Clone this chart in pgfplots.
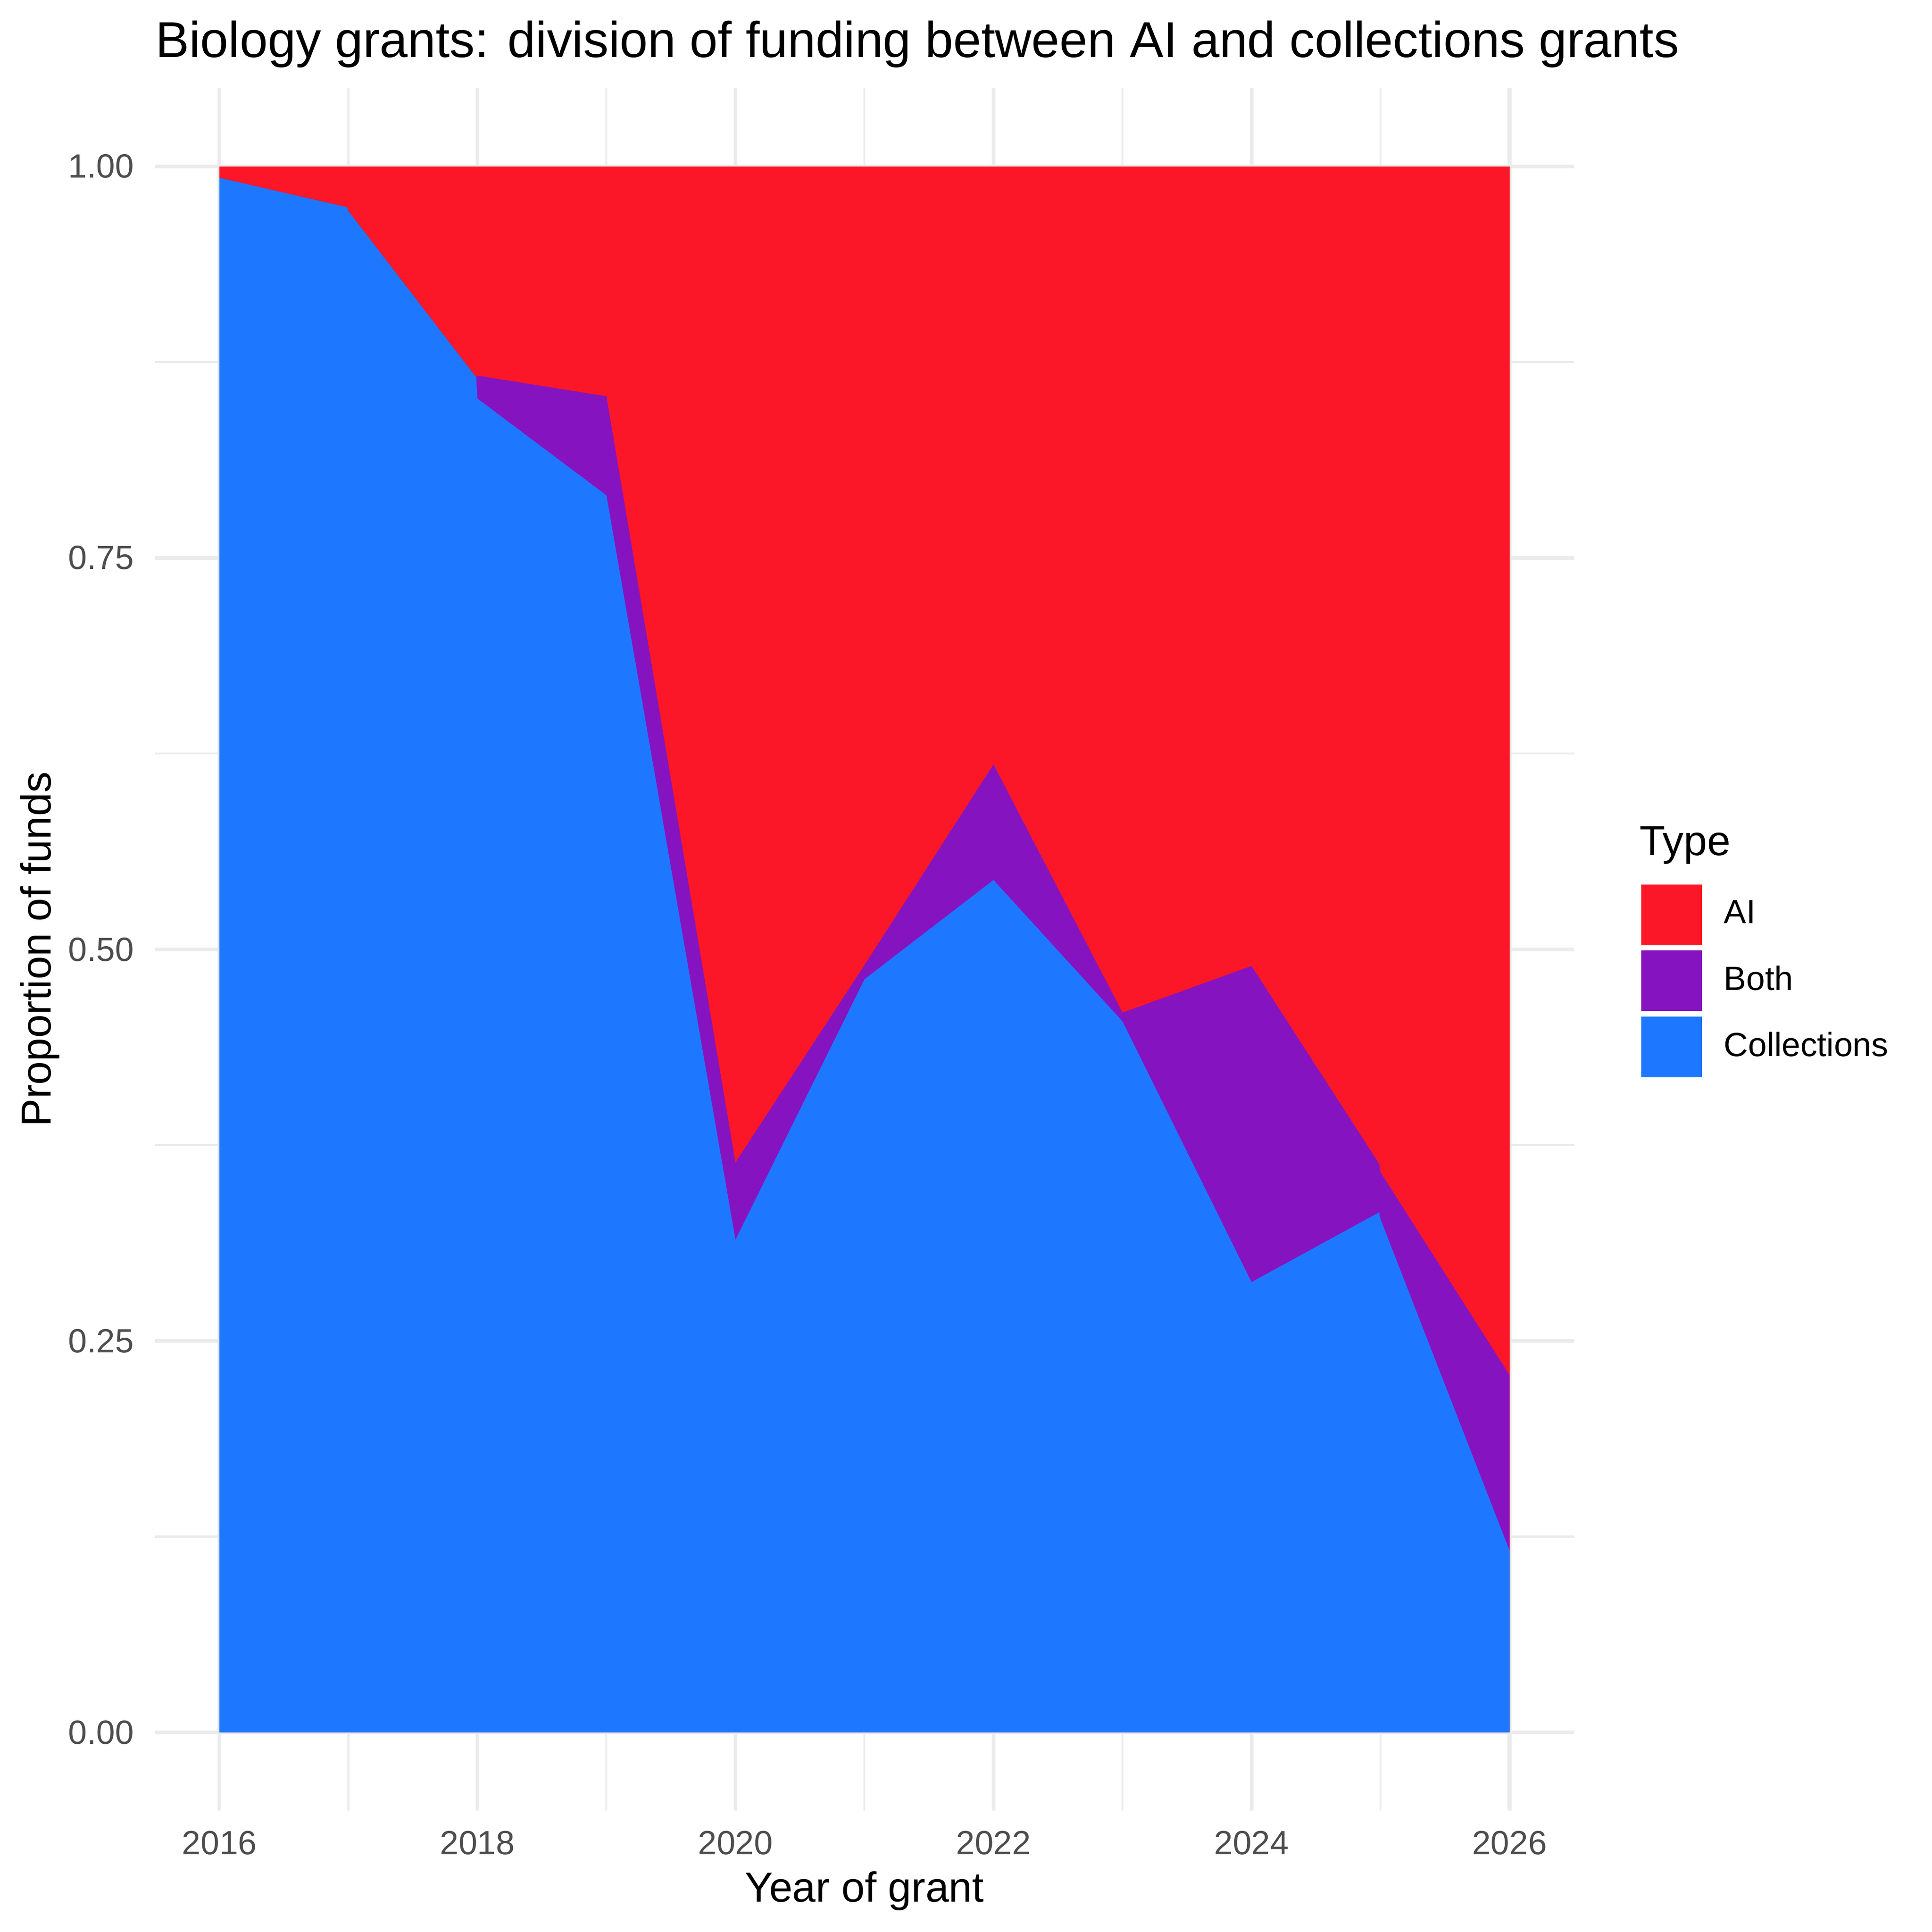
\documentclass[border=0pt]{standalone}
\usepackage{fontspec}
\setmainfont{Liberation Sans}
\usepackage{pgfplots}
\pgfplotsset{compat=1.18}
\definecolor{aired}{RGB}{252,23,40}
\definecolor{bothpurple}{RGB}{134,19,192}
\definecolor{collblue}{RGB}{30,120,255}
\definecolor{grid92}{RGB}{235,235,235}
\definecolor{tickgray}{RGB}{77,77,77}
\begin{document}
\begin{tikzpicture}
\path[use as bounding box] (0,0) rectangle (505.89pt,505.89pt);
\begin{axis}[
  at={(40.57pt,31.77pt)}, anchor=south west,
  scale only axis, width=371.58pt, height=451.05pt,
  xmin=2015.5, xmax=2026.5, ymin=-0.05, ymax=1.05,
  axis line style={draw=none},
  major tick length=0pt, minor tick length=0pt,
  tick style={draw=none},
  xtick={2016,2018,2020,2022,2024,2026},
  xticklabels={2016,2018,2020,2022,2024,2026},
  minor xtick={2017,2019,2021,2023,2025},
  ytick={0,0.25,0.5,0.75,1},
  yticklabels={0.00,0.25,0.50,0.75,1.00},
  minor ytick={0.125,0.375,0.625,0.875},
  xmajorgrids, ymajorgrids, xminorgrids, yminorgrids,
  major grid style={color=grid92, line width=1pt},
  minor grid style={color=grid92, line width=0.5pt},
  xticklabel style={anchor=base, inner sep=0pt, yshift=-11.47pt, text=tickgray, font=\fontsize{8.8}{10.56}\selectfont},
  yticklabel style={anchor=east, inner sep=0pt, xshift=-5.3pt, text=tickgray, font=\fontsize{8.8}{10.56}\selectfont},
  title={Biology grants: division of funding between AI and collections grants},
  title style={at={(axis description cs:0,1.01792)}, anchor=base west, inner sep=0pt, yshift=-6pt, font=\fontsize{13.2}{15.84}\selectfont},
  xlabel={Year of grant},
  xlabel style={at={(axis description cs:0.5,-0.05292)}, anchor=base, inner sep=0pt, font=\fontsize{11}{13.2}\selectfont},
  ylabel={Proportion of funds},
  ylabel style={at={(axis description cs:-0.07352,0.5)}, anchor=base, inner sep=0pt, font=\fontsize{11}{13.2}\selectfont},
  legend cell align=left,
  legend image code/.code={\fill[#1] (0pt,-7.95pt) rectangle (15.9pt,7.95pt);},
  legend style={at={(1.0467,0.5381)}, anchor=north west, draw=none, fill=none,
    inner sep=0pt, row sep=1.4pt, column sep=5.8pt,
    nodes={inner sep=0pt}, font=\fontsize{8.8}{10.56}\selectfont},
]
% AI (top of stack, always reaches 1)
\addplot[draw=none, fill=aired] coordinates {
(2016,1) (2026,1)
} \closedcycle;
\addlegendentry{AI}
% Both: top of Collections + Both
\addplot[draw=none, fill=bothpurple] coordinates {
(2016,0.9927) (2016.99,0.9739) (2017,0.9714) (2017.99,0.8653) (2018,0.8664)
(2019,0.8532) (2020,0.3639) (2021,0.4900) (2022,0.6181) (2023,0.4596)
(2024,0.4894) (2024.99,0.3630) (2025,0.3577) (2026,0.2282)
} \closedcycle;
\addlegendentry{Both}
% Collections
\addplot[draw=none, fill=collblue] coordinates {
(2016,0.9927) (2016.99,0.9739) (2017,0.9714) (2017.99,0.8653) (2018,0.8517)
(2019,0.7899) (2020,0.3145) (2021,0.4809) (2022,0.5443) (2023,0.4540)
(2024,0.2875) (2024.99,0.3321) (2025,0.3277) (2026,0.1161)
} \closedcycle;
\addlegendentry{Collections}
\end{axis}
\node[anchor=base west, inner sep=0pt, font=\fontsize{11}{13.2}\selectfont] at (429.1pt,281.9pt) {Type};
\end{tikzpicture}
\end{document}
